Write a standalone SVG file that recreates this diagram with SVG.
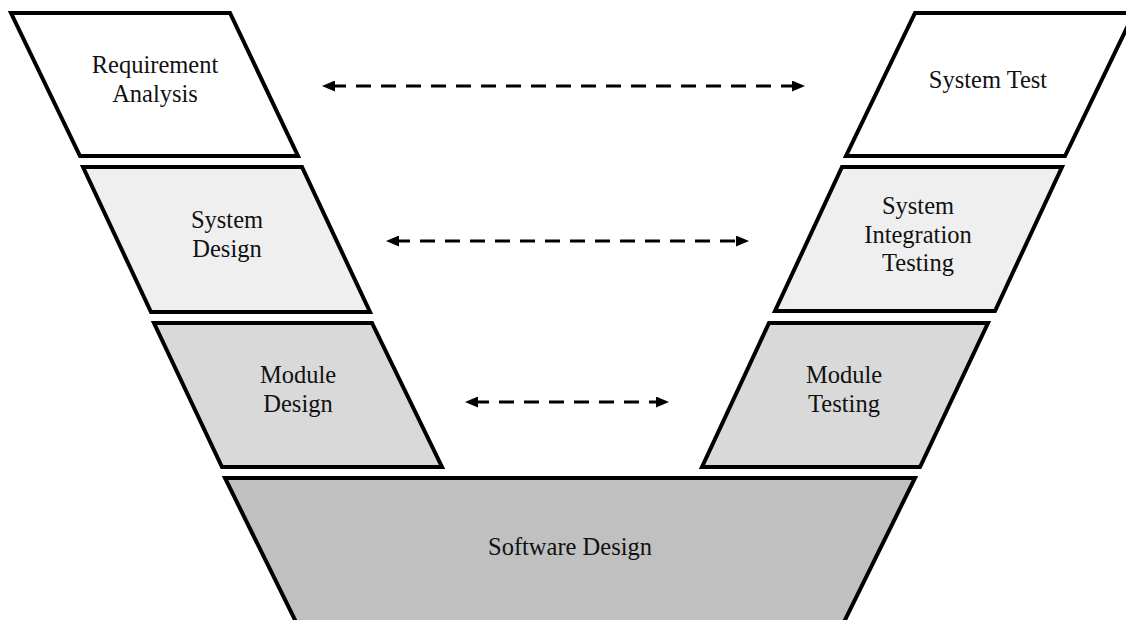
<svg xmlns="http://www.w3.org/2000/svg" width="1126" height="620" viewBox="0 0 1126 620">
  <style>
    .stage { stroke: #000; stroke-width: 4; stroke-linejoin: miter; }
    .lvl1 { fill: #ffffff; }
    .lvl2 { fill: #efefef; }
    .lvl3 { fill: #d9d9d9; }
    .lvl4 { fill: #c0c0c0; }
    .label { font-family: "Liberation Serif", "Times New Roman", serif; font-size: 24.5px; fill: #111; text-anchor: middle; }
    .link { stroke: #000; stroke-width: 3; stroke-dasharray: 15 10; fill: none; marker-start: url(#head); marker-end: url(#head); }
  </style>
  <defs>
    <marker id="head" markerUnits="userSpaceOnUse" markerWidth="13" markerHeight="11" refX="4" refY="5.5" orient="auto-start-reverse">
      <path d="M0,0 L13,5.5 L0,11 z" fill="#000"/>
    </marker>
  </defs>
  <rect width="1126" height="620" fill="#ffffff"/>

  <g id="requirement-analysis">
    <polygon class="stage lvl1" points="11,13 230,13 298,156 80,156"/>
    <text class="label" x="155" y="73">Requirement</text>
    <text class="label" x="155" y="102">Analysis</text>
  </g>

  <g id="system-test">
    <polygon class="stage lvl1" points="915,13 1134,13 1065,156 846,156"/>
    <text class="label" x="988" y="88">System Test</text>
  </g>

  <g id="system-design">
    <polygon class="stage lvl2" points="83,167 302,167 370,312 151,312"/>
    <text class="label" x="227" y="228">System</text>
    <text class="label" x="227" y="257">Design</text>
  </g>

  <g id="system-integration-testing">
    <polygon class="stage lvl2" points="842,167 1062,167 995,311 775,311"/>
    <text class="label" x="918" y="214">System</text>
    <text class="label" x="918" y="243">Integration</text>
    <text class="label" x="918" y="271">Testing</text>
  </g>

  <g id="module-design">
    <polygon class="stage lvl3" points="154,323 372,323 442,467 222,467"/>
    <text class="label" x="298" y="383">Module</text>
    <text class="label" x="298" y="412">Design</text>
  </g>

  <g id="module-testing">
    <polygon class="stage lvl3" points="769,323 988,323 920,467 702,467"/>
    <text class="label" x="844" y="383">Module</text>
    <text class="label" x="844" y="412">Testing</text>
  </g>

  <g id="software-design">
    <polygon class="stage lvl4" points="225,478 915,478 843,624 297,624"/>
    <text class="label" x="570" y="555">Software Design</text>
  </g>

  <g id="connectors">
    <line class="link" x1="331" y1="86" x2="796" y2="86"/>
    <line class="link" x1="395" y1="241" x2="740" y2="241"/>
    <line class="link" x1="474" y1="402" x2="660" y2="402"/>
  </g>
</svg>
